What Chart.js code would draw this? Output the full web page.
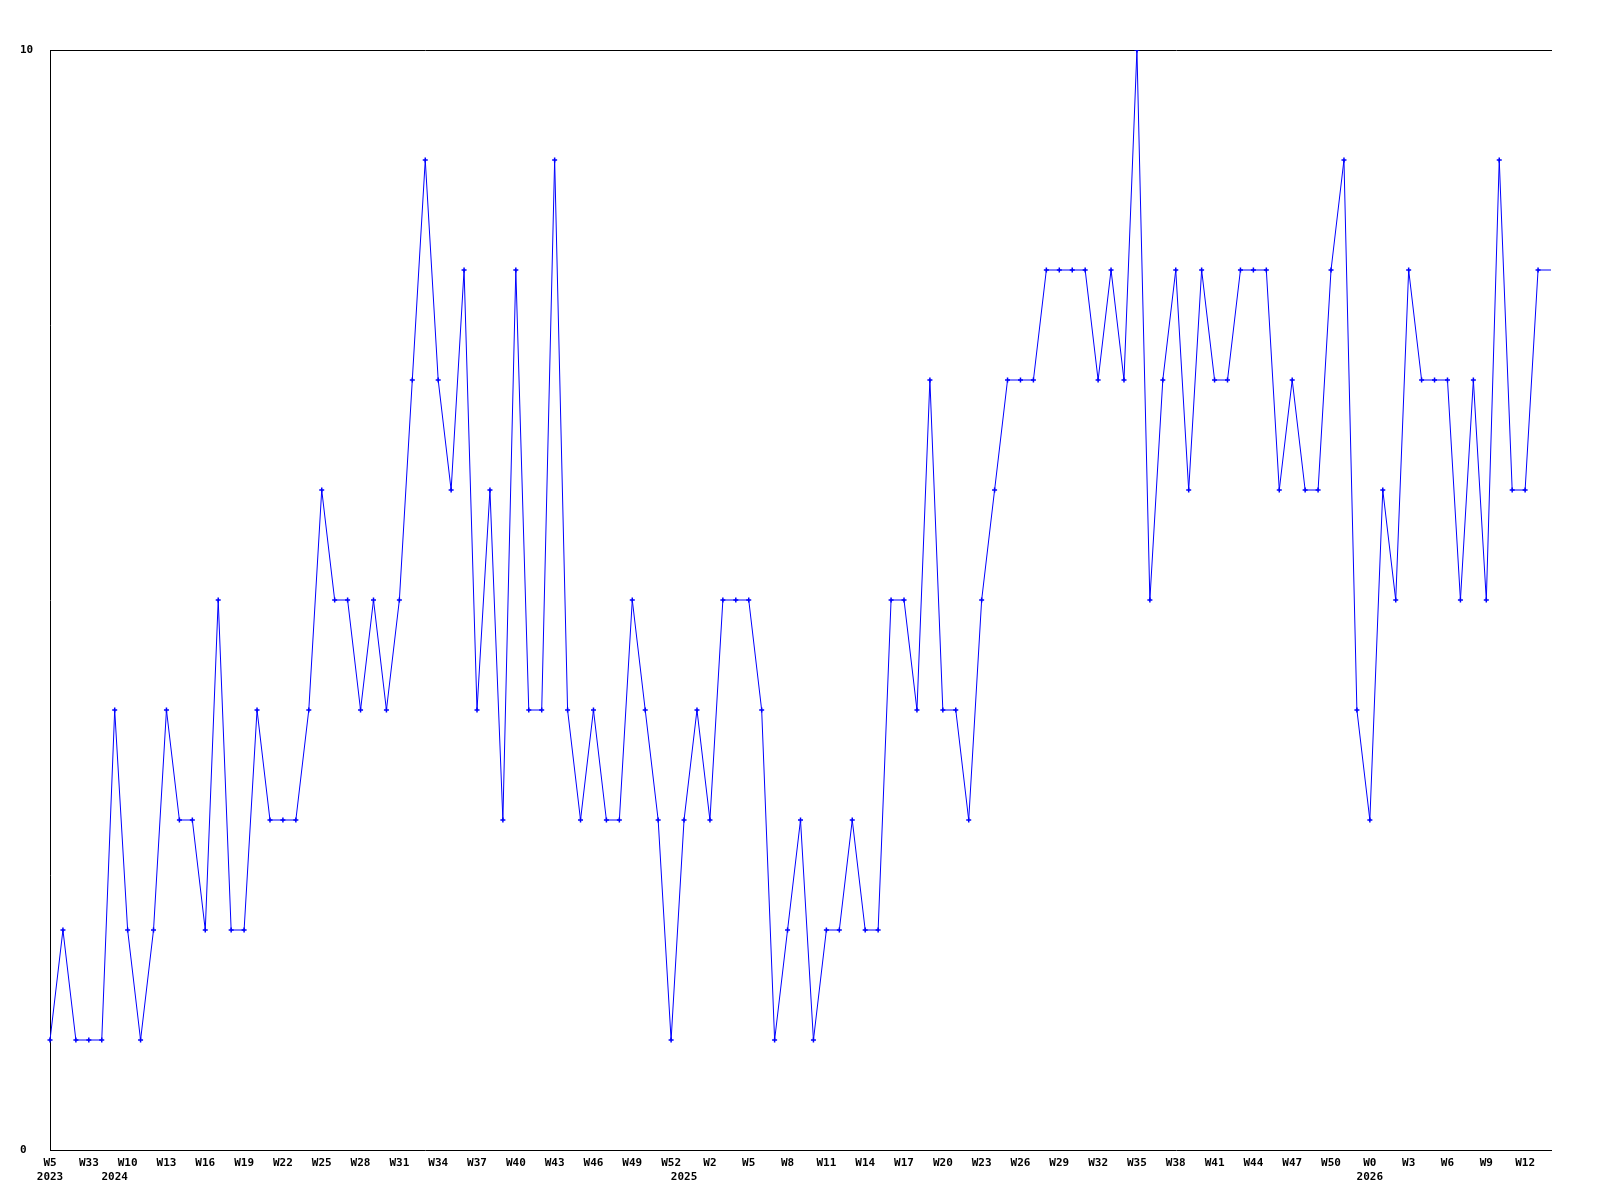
<!DOCTYPE html>
<html>
<head>
<meta charset="utf-8">
<style>
  html, body { margin: 0; padding: 0; background: #ffffff; }
  #wrap { width: 1600px; height: 1200px; }
</style>
<script src="https://cdn.jsdelivr.net/npm/chart.js@4/dist/chart.umd.min.js"></script>
</head>
<body>
<div id="wrap"><canvas id="c" width="1600" height="1200"></canvas></div>
<script>
// ---- data ----
const values = [
  1,2,1,1,1,4,2,1,2,4,3,3,2,5,2,2,4,3,3,3,4,
  6,5,5,4,5,4,5,7,9,7,6,8,4,6,3,8,4,4,9,4,
  3,4,3,3,5,4,3,1,3,4,3,5,5,5,4,1,2,3,1,2,
  2,3,2,2,5,5,4,7,4,4,3,5,6,7,7,7,8,8,8,8,
  7,8,7,10,5,7,8,6,8,7,7,8,8,8,6,7,6,6,8,9,
  4,3,6,5,8,7,7,7,5,7,5,9,6,6,8,8
];
const weekTickLabels = ['W5','W33','W10','W13','W16','W19','W22','W25','W28','W31','W34','W37','W40','W43','W46','W49','W52','W2','W5','W8','W11','W14','W17','W20','W23','W26','W29','W32','W35','W38','W41','W44','W47','W50','W0','W3','W6','W9','W12'];
const weekTickEvery = 3;
const yearTickIndex = [0, 5, 49, 102];
const yearTickLabels = ['2023', '2024', '2025', '2026'];
const yTickValues = [0, 10];

// category labels (multi-line: week / year)
const categories = values.map((v, i) => {
  const lines = [i % weekTickEvery === 0 ? (weekTickLabels[i / weekTickEvery] || '') : ''];
  const y = yearTickIndex.indexOf(i);
  if (y >= 0) lines.push(yearTickLabels[y]);
  return lines;
});

const tickFont = { family: "'DejaVu Sans Mono', 'Liberation Mono', monospace", size: 11, weight: 'bold', lineHeight: 1.31 };
const lastIndex = values.length - 1;

new Chart(document.getElementById('c'), {
  type: 'line',
  data: {
    labels: categories,
    datasets: [{
      data: values,
      borderColor: '#0000ff',
      backgroundColor: '#0000ff',
      borderWidth: 1,
      tension: 0,
      fill: false,
      pointStyle: 'cross',
      pointRadius: (ctx) => ctx.dataIndex === lastIndex ? 0 : 2.5,
      pointBorderWidth: 1.5,
      pointBorderColor: '#0000ff',
      pointBackgroundColor: '#0000ff'
    }]
  },
  options: {
    responsive: false,
    animation: false,
    events: [],
    layout: { padding: { top: 50, right: 49, bottom: 0, left: 20 } },
    plugins: { legend: { display: false }, tooltip: { enabled: false } },
    scales: {
      x: {
        type: 'category',
        position: 'bottom',
        offset: false,
        grid: { display: false, drawTicks: false },
        border: { display: true, color: '#000000', width: 1 },
        ticks: {
          autoSkip: false,
          maxRotation: 0,
          minRotation: 0,
          padding: 6,
          color: '#000000',
          font: tickFont
        },
        afterFit: (s) => { s.height = 50; }
      },
      xTop: {
        type: 'category',
        position: 'top',
        offset: false,
        grid: { display: false, drawTicks: false },
        border: { display: true, color: '#000000', width: 1 },
        ticks: { display: false },
        afterFit: (s) => { s.height = 0; }
      },
      y: {
        type: 'linear',
        min: 0,
        max: 10,
        grid: { display: false, drawTicks: false },
        border: { display: true, color: '#000000', width: 1 },
        afterBuildTicks: (s) => { s.ticks = yTickValues.map(v => ({ value: v })); },
        ticks: {
          crossAlign: 'far',
          padding: 10,
          color: '#000000',
          font: tickFont,
          callback: (v) => String(v)
        },
        afterFit: (s) => { s.width = 30; }
      }
    }
  }
});
</script>
</body>
</html>
